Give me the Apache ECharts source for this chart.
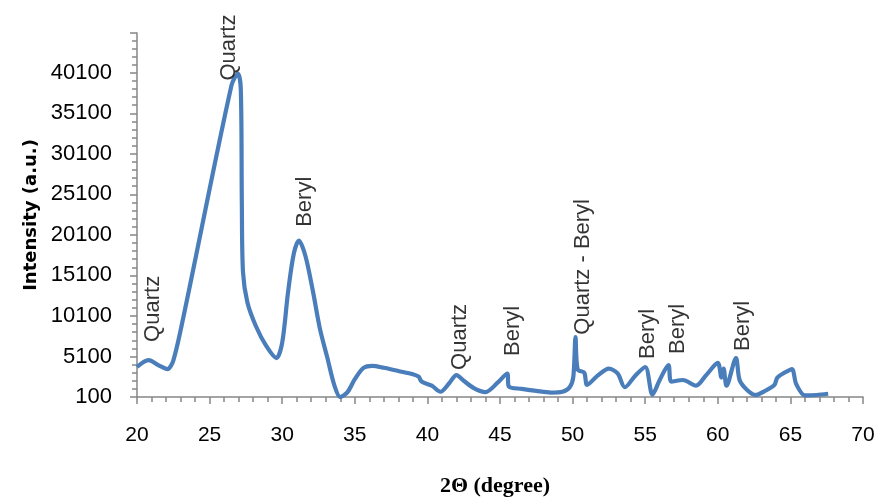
<!DOCTYPE html>
<html>
<head>
<meta charset="utf-8">
<script src="https://cdn.jsdelivr.net/npm/echarts@6/dist/echarts.min.js"></script>
<style>html,body{margin:0;padding:0;background:#fff}#c{width:880px;height:497px}</style>
</head>
<body>
<div id="c"></div>
<script>
// Diffraction pattern: 2-theta (degree) and intensity (a.u.)
var twoTheta = [20.0,20.8,21.5,22.1,22.5,23.2,26.5,26.95,27.15,27.22,27.3,27.6,28.2,28.9,29.6,30.0,30.4,30.8,31.15,31.6,32.1,32.6,33.1,33.6,34.0,34.5,35.0,35.6,36.2,37.0,38.0,39.0,39.4,39.6,40.3,40.9,41.5,42.0,42.5,43.2,44.0,44.8,45.5,45.6,46.5,47.5,48.5,49.3,49.8,50.05,50.2,50.35,50.8,51.0,51.7,52.5,53.1,53.6,54.3,55.0,55.5,56.0,56.6,56.8,57.6,58.5,59.2,60.0,60.25,60.4,60.6,61.25,61.5,62.0,62.6,63.3,63.9,64.1,64.6,65.1,65.4,66.0,66.8,67.6];
var intensity = [3800,4650,4000,3550,4600,10000,38500,40000,38000,24000,15500,11800,8800,6400,4900,6800,13000,17800,19400,17500,13300,8500,5000,1500,100,700,2300,3700,3950,3700,3300,2900,2600,2000,1500,750,1800,2800,2100,1200,700,1800,3000,1400,1100,850,650,750,1300,2600,7500,3500,3100,1600,2700,3600,3000,1300,2700,3800,400,2200,4050,2000,2200,1500,2800,4300,2500,3600,1500,4900,2200,1000,350,900,1600,2500,3100,3550,1700,300,350,500];

// Peak annotations (text, anchor in data coordinates)
var annText = ['Quartz','Quartz','Beryl','Quartz','Beryl','Quartz - Beryl','Beryl','Beryl','Beryl'];
var annX = [21.1,26.34,31.57,42.25,45.9,50.72,55.19,57.26,61.74];
var annY = [10970,43200,24180,7510,8250,16155,7880,8500,8870];

// Axis settings
var xMin = 20, xMax = 70, xStep = 5;
var yMin = 100, yMax = 45000, yStep = 5000;

var lineData = twoTheta.map(function(x, i){ return [x, intensity[i]]; });
var annData = annText.map(function(t, i){ return {name: t, value: [annX[i], annY[i]]}; });

var axisGray = '#868686';
var chart = echarts.init(document.getElementById('c'), null, {renderer: 'canvas'});
chart.setOption({
  backgroundColor: '#ffffff',
  animation: false,
  grid: {left: 137, right: 17, top: 33, bottom: 100, containLabel: false, outerBoundsMode: 'none'},
  xAxis: {
    type: 'value', min: xMin, max: xMax, interval: xStep,
    name: '2\u0398 (degree)', nameLocation: 'middle', nameGap: 78,
    nameTextStyle: {fontFamily: 'Liberation Serif', fontWeight: 'bold', fontSize: 22, color: '#000', padding: [0, 10, 0, 0]},
    axisLine: {show: true, lineStyle: {color: axisGray, width: 1.5}},
    axisTick: {show: true, length: 7, lineStyle: {color: axisGray, width: 1.5}},
    minorTick: {show: true, splitNumber: 5, length: 5, lineStyle: {color: axisGray, width: 1.5}},
    splitLine: {show: false},
    axisLabel: {fontFamily: 'Liberation Sans', fontSize: 21, color: '#000', margin: 28}
  },
  yAxis: {
    type: 'value', min: yMin, max: yMax, interval: yStep,
    name: 'Intensity (a.u.)', nameLocation: 'middle', nameGap: 95, nameRotate: 90,
    nameTextStyle: {fontFamily: 'DejaVu Sans', fontWeight: 'bold', fontSize: 18, color: '#000'},
    axisLine: {show: true, lineStyle: {color: axisGray, width: 1.5}},
    axisTick: {show: true, length: 7, lineStyle: {color: axisGray, width: 1.5}},
    minorTick: {show: true, splitNumber: 5, length: 5, lineStyle: {color: axisGray, width: 1.5}},
    splitLine: {show: false},
    axisLabel: {fontFamily: 'Liberation Sans', fontSize: 22, color: '#000', margin: 25, showMaxLabel: false,
      formatter: function(v){ return String(Math.round(v)); }}
  },
  series: [
    {
      type: 'line', data: lineData, showSymbol: false, symbol: 'none',
      smooth: 0.3,
      lineStyle: {color: '#4a7ebb', width: 4.2},
      z: 2
    },
    {
      type: 'scatter', data: annData, symbolSize: 0, clip: false, silent: true,
      label: {
        show: true, position: 'inside', rotate: 90, formatter: '{b}',
        fontFamily: 'Liberation Sans', fontSize: 22, color: '#000',
        align: 'center', verticalAlign: 'middle'
      },
      z: 3
    }
  ]
});
</script>
</body>
</html>
